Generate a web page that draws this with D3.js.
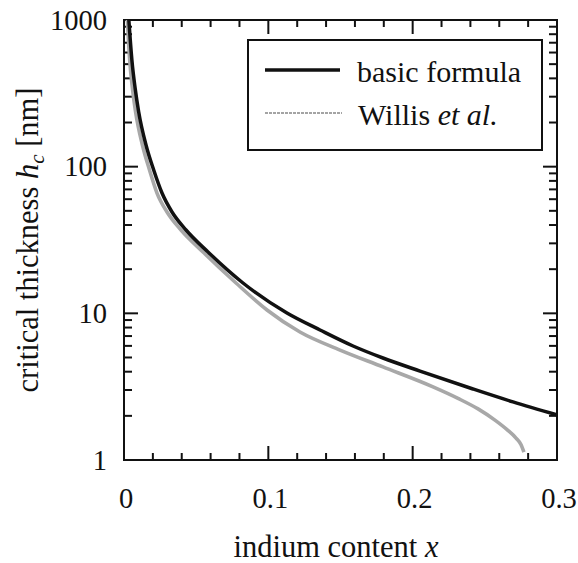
<!DOCTYPE html>
<html>
<head>
<meta charset="utf-8">
<script src="https://cdn.jsdelivr.net/npm/d3@7"></script>
<style>
  body { margin: 0; background: #fff; }
  svg { display: block; }
  text { font-family: "Liberation Serif", "Times New Roman", serif; fill: #111; }
</style>
</head>
<body>
<svg id="chart" width="578" height="563"></svg>
<script>
// indium content x and critical thickness hc [nm], basic formula
var basicX = [0.00336, 0.00547, 0.00769, 0.01018, 0.01524, 0.02058, 0.02633, 0.03326, 0.04296, 0.0582, 0.08245, 0.1129, 0.1358, 0.1587, 0.1794, 0.2051, 0.2418, 0.2695, 0.3];
var basicH = [1000, 533, 344, 236, 140.5, 94.9, 66.1, 49.1, 37.0, 26.2, 16.1, 10.05, 7.7, 5.99, 4.96, 4.04, 3.05, 2.49, 2.03];

// Willis et al.
var willisX = [0.00232, 0.00395, 0.00582, 0.00804, 0.01275, 0.01767, 0.02286, 0.02979, 0.03949, 0.05473, 0.0776, 0.09908, 0.1219, 0.1497, 0.1794, 0.2141, 0.2314, 0.2453, 0.257, 0.2654, 0.2716, 0.2751, 0.2771];
var willisH = [1000, 533, 344, 236, 140.5, 94.9, 66.1, 49.1, 37.0, 26.2, 16.1, 10.54, 7.46, 5.62, 4.31, 3.15, 2.63, 2.23, 1.87, 1.61, 1.41, 1.27, 1.13];

var xTicks = [0, 0.1, 0.2, 0.3];
var xTickLabels = ["0", "0.1", "0.2", "0.3"];
var yTicks = [1, 10, 100, 1000];
var yTickLabels = ["1", "10", "100", "1000"];

var legendLabels = ["basic formula", "Willis"];

var svg = d3.select("#chart");
var m = { left: 124, right: 557, top: 20, bottom: 460 };

var x = d3.scaleLinear().domain([0, 0.3]).range([m.left, m.right]);
var y = d3.scaleLog().domain([1, 1000]).range([m.bottom, m.top]);

// minor ticks
var xMinor = d3.range(0.02, 0.3, 0.02).filter(function (v) {
  return Math.abs(v * 10 - Math.round(v * 10)) > 1e-6;
});
var yMinor = [];
[1, 10, 100].forEach(function (d) {
  for (var k = 2; k <= 9; k++) yMinor.push(d * k);
});

var g = svg.append("g");

// frame
g.append("rect")
  .attr("x", m.left).attr("y", m.top)
  .attr("width", m.right - m.left).attr("height", m.bottom - m.top)
  .attr("fill", "none").attr("stroke", "#111").attr("stroke-width", 2);

function tickLine(x1, y1, x2, y2) {
  g.append("line")
    .attr("x1", x1).attr("y1", y1).attr("x2", x2).attr("y2", y2)
    .attr("stroke", "#111").attr("stroke-width", 2);
}

// x ticks bottom + top (inward)
xTicks.forEach(function (v) {
  tickLine(x(v), m.bottom, x(v), m.bottom - 14);
  tickLine(x(v), m.top, x(v), m.top + 14);
});
xMinor.forEach(function (v) {
  tickLine(x(v), m.bottom, x(v), m.bottom - 7);
  tickLine(x(v), m.top, x(v), m.top + 7);
});
// y ticks left + right
yTicks.forEach(function (v) {
  tickLine(m.left, y(v), m.left + 14, y(v));
  tickLine(m.right, y(v), m.right - 14, y(v));
});
yMinor.forEach(function (v) {
  tickLine(m.left, y(v), m.left + 8, y(v));
  tickLine(m.right, y(v), m.right - 8, y(v));
});

// tick labels
g.selectAll(".xl").data(xTicks).enter().append("text")
  .attr("x", function (d) { return x(d) + 2; })
  .attr("y", 508)
  .attr("text-anchor", "middle")
  .style("font-size", "28.5px")
  .text(function (d, i) { return xTickLabels[i]; });

g.selectAll(".yl").data(yTicks).enter().append("text")
  .attr("x", 107)
  .attr("y", function (d) { return y(d) + 9.5; })
  .attr("text-anchor", "end")
  .style("font-size", "28.5px")
  .text(function (d, i) { return yTickLabels[i]; });

// axis titles
var xt = g.append("text")
  .attr("x", 336).attr("y", 557)
  .attr("text-anchor", "middle")
  .style("font-size", "30.5px");
xt.append("tspan").text("indium content ");
xt.append("tspan").style("font-style", "italic").text("x");

var yt = g.append("text")
  .attr("transform", "translate(38,240) rotate(-90)")
  .attr("text-anchor", "middle")
  .style("font-size", "30.5px");
yt.append("tspan").text("critical thickness ");
yt.append("tspan").style("font-style", "italic").text("h");
yt.append("tspan").style("font-style", "italic").style("font-size", "21px").attr("dy", 6).text("c");
yt.append("tspan").attr("dy", -6).text(" [nm]");

// curves
var line = d3.line()
  .x(function (d) { return x(d[0]); })
  .y(function (d) { return y(d[1]); })
  .curve(d3.curveMonotoneX);

svg.append("clipPath").attr("id", "clip")
  .append("rect").attr("x", m.left).attr("y", m.top)
  .attr("width", m.right - m.left).attr("height", m.bottom - m.top);

var willisData = d3.zip(willisX, willisH);
var basicData = d3.zip(basicX, basicH);

g.append("path")
  .datum(willisData)
  .attr("clip-path", "url(#clip)")
  .attr("d", line)
  .attr("fill", "none")
  .attr("stroke", "#a8a8a8")
  .attr("stroke-width", 3.6);

g.append("path")
  .datum(basicData)
  .attr("clip-path", "url(#clip)")
  .attr("d", line)
  .attr("fill", "none")
  .attr("stroke", "#111")
  .attr("stroke-width", 3.5);

// legend
var lg = g.append("g");
lg.append("rect")
  .attr("x", 248).attr("y", 40).attr("width", 294).attr("height", 110)
  .attr("fill", "#fff").attr("stroke", "#111").attr("stroke-width", 2);
lg.append("line")
  .attr("x1", 265).attr("x2", 340).attr("y1", 70).attr("y2", 70)
  .attr("stroke", "#111").attr("stroke-width", 3.5);
lg.append("line")
  .attr("x1", 265).attr("x2", 342).attr("y1", 113).attr("y2", 113)
  .attr("stroke", "#a4a4a4").attr("stroke-width", 2.2)
  .attr("stroke-dasharray", "3,1");
lg.append("text").attr("x", 357).attr("y", 82)
  .style("font-size", "30px").text(legendLabels[0]);
var wl = lg.append("text").attr("x", 358).attr("y", 125).style("font-size", "30px");
wl.append("tspan").text(legendLabels[1] + " ");
wl.append("tspan").style("font-style", "italic").text("et al.");
</script>
</body>
</html>
